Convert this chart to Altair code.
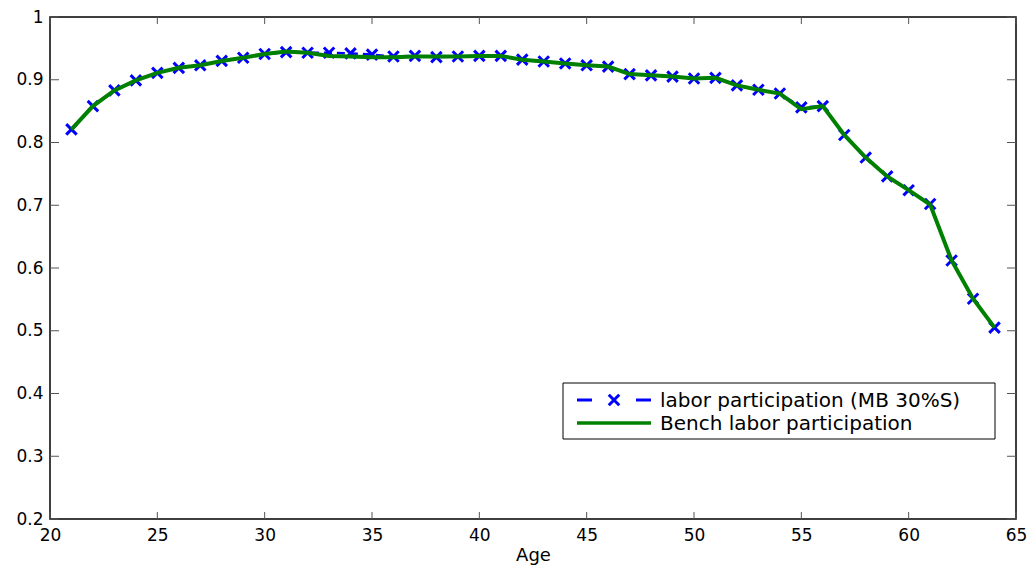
import altair as alt
import pandas as pd

# ---- data ----
ages = list(range(21, 65))
mb_participation = [0.821, 0.858, 0.883, 0.899, 0.911, 0.919, 0.923, 0.930, 0.935, 0.941,
                    0.944, 0.943, 0.943, 0.942, 0.940, 0.937, 0.938, 0.936, 0.937, 0.938,
                    0.938, 0.932, 0.929, 0.926, 0.923, 0.921, 0.909, 0.907, 0.905, 0.902,
                    0.903, 0.891, 0.884, 0.878, 0.856, 0.858, 0.812, 0.776, 0.746, 0.724,
                    0.702, 0.612, 0.551, 0.505]
bench_participation = [0.821, 0.858, 0.883, 0.899, 0.911, 0.919, 0.923, 0.930, 0.935, 0.941,
                       0.945, 0.943, 0.938, 0.937, 0.936, 0.936, 0.937, 0.937, 0.937, 0.938,
                       0.938, 0.932, 0.929, 0.926, 0.923, 0.921, 0.909, 0.907, 0.905, 0.902,
                       0.903, 0.891, 0.884, 0.878, 0.853, 0.858, 0.812, 0.776, 0.746, 0.724,
                       0.701, 0.612, 0.551, 0.505]
series_names = ["labor participation (MB 30%S)", "Bench labor participation"]
x_ticks = [20, 25, 30, 35, 40, 45, 50, 55, 60, 65]
y_ticks = [0.2, 0.3, 0.4, 0.5, 0.6, 0.7, 0.8, 0.9, 1.0]

W, H = 966, 502
FONT = "DejaVu Sans"
BLUE = "#0000ff"
GREEN = "#008000"
XPATH = "M-1,-1L1,1M-1,1L1,-1"

df = pd.DataFrame({"age": ages, "mb": mb_participation, "bench": bench_participation})

xs = alt.Scale(domain=[20, 65], nice=False, zero=False)
ys = alt.Scale(domain=[0.2, 1.0], nice=False, zero=False)
xa = alt.Axis(values=x_ticks, title="Age", labelPadding=8, titlePadding=3,
              labelFlush=False, format="d", labelFontSize=17)
ya = alt.Axis(values=y_ticks, title=None, labelPadding=7, labelFlush=False, format="~g",
              labelFontSize=17)

base = alt.Chart(df)

blue_line = base.mark_line(color=BLUE, strokeWidth=2.5, strokeDash=[8, 5]).encode(
    x=alt.X("age:Q", scale=xs, axis=xa),
    y=alt.Y("mb:Q", scale=ys, axis=ya),
)
blue_pts = base.mark_point(shape=XPATH, color=BLUE, filled=False, strokeWidth=3, size=110,
                           opacity=1).encode(
    x=alt.X("age:Q", scale=xs, axis=xa),
    y=alt.Y("mb:Q", scale=ys, axis=ya),
)
green_line = base.mark_line(color=GREEN, strokeWidth=4).encode(
    x=alt.X("age:Q", scale=xs, axis=xa),
    y=alt.Y("bench:Q", scale=ys, axis=ya),
)

# inward tick marks on all four sides
xt = alt.Chart(pd.DataFrame({"age": x_ticks}))
yt = alt.Chart(pd.DataFrame({"mb": y_ticks}))
TICK = "#555555"
tick_b = xt.mark_rule(color=TICK, strokeWidth=1).encode(
    x=alt.X("age:Q", scale=xs, axis=xa), y=alt.value(H), y2=alt.value(H - 7))
tick_t = xt.mark_rule(color=TICK, strokeWidth=1).encode(
    x=alt.X("age:Q", scale=xs, axis=xa), y=alt.value(0), y2=alt.value(7))
tick_l = yt.mark_rule(color=TICK, strokeWidth=1).encode(
    y=alt.Y("mb:Q", scale=ys, axis=ya), x=alt.value(0), x2=alt.value(9))
tick_r = yt.mark_rule(color=TICK, strokeWidth=1).encode(
    y=alt.Y("mb:Q", scale=ys, axis=ya), x=alt.value(W - 9), x2=alt.value(W))

# legend (drawn inside the plot, lower right)
one = alt.Chart(alt.Data(values=[{"a": 1}]))
leg_box = one.mark_rect(fill="white", stroke="black", strokeWidth=1).encode(
    x=alt.value(513), x2=alt.value(945), y=alt.value(366), y2=alt.value(422))
leg_blue = one.mark_rule(color=BLUE, strokeWidth=3, strokeDash=[15, 44]).encode(
    x=alt.value(527), x2=alt.value(601), y=alt.value(383))
leg_mark = one.mark_point(shape=XPATH, color=BLUE, filled=False, strokeWidth=3, size=110,
                          opacity=1).encode(x=alt.value(564), y=alt.value(383))
leg_green = one.mark_rule(color=GREEN, strokeWidth=3.5).encode(
    x=alt.value(527), x2=alt.value(601), y=alt.value(406))
leg_t1 = alt.Chart(alt.Data(values=[{"label": series_names[0]}])).mark_text(
    align="left", baseline="middle", font=FONT, fontSize=20, color="black").encode(
    x=alt.value(610), y=alt.value(384), text="label:N")
leg_t2 = alt.Chart(alt.Data(values=[{"label": series_names[1]}])).mark_text(
    align="left", baseline="middle", font=FONT, fontSize=20, color="black").encode(
    x=alt.value(610), y=alt.value(407), text="label:N")

chart = alt.layer(
    blue_line, blue_pts, green_line,
    tick_b, tick_t, tick_l, tick_r,
    leg_box, leg_blue, leg_mark, leg_green, leg_t1, leg_t2,
).properties(
    width=W, height=H,
    autosize=alt.AutoSizeParams(type="none"),
    padding={"left": 42, "top": 9, "right": 12, "bottom": 47},
).configure_view(
    stroke="black", strokeWidth=1.5
).configure_axis(
    grid=False, domain=False, ticks=False, tickSize=0,
    labelFont=FONT, labelFontSize=17, labelColor="black",
    titleFont=FONT, titleFontSize=18, titleFontWeight="normal", titleColor="black",
)

chart.save("out.html", embed_options={"renderer": "svg", "actions": False})
